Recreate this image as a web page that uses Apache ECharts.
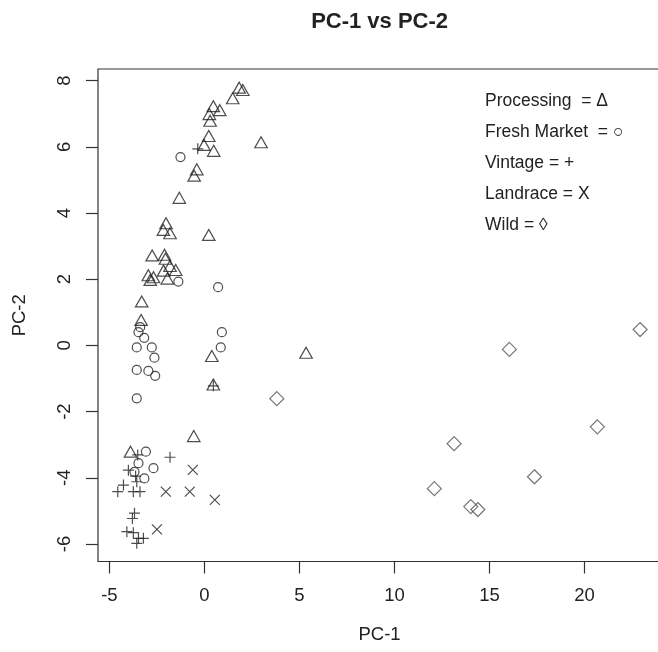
<!DOCTYPE html>
<html>
<head>
<meta charset="utf-8">
<script src="https://cdn.jsdelivr.net/npm/echarts@6/dist/echarts.min.js"></script>
<style>
html,body{margin:0;padding:0;background:#fff;}
#chart{width:658px;height:652px;}
</style>
</head>
<body>
<div id="chart"></div>
<script>
var titleText = 'PC-1 vs PC-2';
var xName = 'PC-1';
var yName = 'PC-2';
var xTicks = [-5, 0, 5, 10, 15, 20];
var yTicks = [-6, -4, -2, 0, 2, 4, 6, 8];

var processing = [[1.83,7.79],[2.02,7.72],[1.49,7.47],[0.47,7.23],[0.81,7.11],[0.26,6.99],[0.30,6.79],[0.23,6.33],[-0.02,6.06],[0.49,5.88],[2.98,6.14],[-0.40,5.32],[-0.54,5.13],[-1.32,4.46],[-2.02,3.69],[-2.16,3.49],[-1.81,3.39],[0.23,3.34],[-2.75,2.72],[-2.10,2.74],[-2.05,2.62],[-1.81,2.40],[-1.51,2.28],[-2.15,2.26],[-2.95,2.12],[-2.68,2.06],[-2.85,1.98],[-1.95,2.02],[-3.30,1.33],[-3.33,0.77],[0.39,-0.32],[5.35,-0.22],[0.47,-1.18],[-0.56,-2.74],[-3.89,-3.21]];
var freshMarket = [[-1.26,5.69],[-1.37,1.93],[0.72,1.76],[-3.38,0.55],[-3.47,0.40],[-3.17,0.23],[-3.56,-0.06],[-2.77,-0.06],[-2.63,-0.37],[-3.56,-0.74],[-2.95,-0.77],[-2.59,-0.92],[-3.56,-1.60],[0.92,0.40],[0.86,-0.06],[-3.08,-3.21],[-3.47,-3.56],[-2.68,-3.71],[-3.68,-3.82],[-3.16,-4.02]];
var vintage = [[-0.35,5.94],[0.47,-1.22],[-3.51,-3.31],[-1.81,-3.38],[-4.00,-3.77],[-3.62,-3.95],[-3.56,-4.12],[-4.26,-4.22],[-4.56,-4.42],[-3.74,-4.42],[-3.39,-4.42],[-3.68,-5.07],[-3.79,-5.23],[-4.08,-5.63],[-3.74,-5.66],[-3.47,-5.83],[-3.21,-5.83],[-3.56,-5.98]];
var landrace = [[-0.61,-3.76],[-2.03,-4.42],[-0.77,-4.42],[0.55,-4.67],[-2.50,-5.56]];
var wild = [[3.81,-1.61],[16.05,-0.12],[22.93,0.48],[20.68,-2.46],[13.14,-2.97],[17.37,-3.97],[12.10,-4.33],[14.02,-4.87],[14.39,-4.96]];

var legendLines = ['Processing  = \u0394', 'Fresh Market  = \u25CB', 'Vintage = +', 'Landrace = X', 'Wild = \u25CA'];

var FONT = '"Liberation Sans", Arial, sans-serif';
var INK = '#222';

function sc(name, data, symbol, size, color) {
  return {
    name: name, type: 'scatter', data: data, symbol: symbol, symbolSize: size,
    itemStyle: { color: 'rgba(0,0,0,0)', borderColor: color || INK, borderWidth: 1.2 },
    emphasis: { disabled: true }, silent: true, animation: false
  };
}

var chart = echarts.init(document.getElementById('chart'), null, { renderer: 'canvas' });
var legendGraphics = legendLines.map(function (t, i) {
  return {
    type: 'text', left: 485, top: 102.6 + i * 31 - 10,
    style: { text: t, fontSize: 17.5, fontFamily: FONT, fill: INK }
  };
});

chart.setOption({
  animation: false,
  backgroundColor: '#fff',
  title: {
    text: titleText, left: 379.6, top: 11, textAlign: 'center', padding: 0,
    textStyle: { fontSize: 22, fontWeight: 'bold', fontFamily: FONT, color: INK }
  },
  grid: {
    left: 98, top: 69, right: -3, bottom: 90.5, outerBoundsMode: 'none', containLabel: false,
    show: true, borderColor: '#333', borderWidth: 1.2, backgroundColor: 'rgba(0,0,0,0)'
  },
  xAxis: {
    type: 'value', min: -5.6, max: 24.03,
    name: xName, nameLocation: 'middle', nameGap: 64,
    nameTextStyle: { fontSize: 18.5, fontFamily: FONT, color: INK },
    axisLine: { show: false, onZero: false }, splitLine: { show: false },
    axisTick: { show: true, inside: false, length: 12, customValues: xTicks, lineStyle: { color: '#333', width: 1.2 } },
    axisLabel: { customValues: xTicks, margin: 25, fontSize: 18.5, fontFamily: FONT, color: INK }
  },
  yAxis: {
    type: 'value', min: -6.53, max: 8.353,
    name: yName, nameLocation: 'middle', nameGap: 69,
    nameTextStyle: { fontSize: 18.5, fontFamily: FONT, color: INK },
    axisLine: { show: false, onZero: false }, splitLine: { show: false },
    axisTick: { show: true, inside: false, length: 12, customValues: yTicks, lineStyle: { color: '#333', width: 1.2 } },
    axisLabel: { customValues: yTicks, rotate: 90, margin: 24, fontSize: 18.5, fontFamily: FONT, color: INK }
  },
  graphic: legendGraphics,
  series: [
    sc('Processing', processing, 'triangle', [12.5, 11]),
    sc('Fresh Market', freshMarket, 'circle', 9),
    sc('Vintage', vintage, 'path://M5 0 L5 10 M0 5 L10 5', 11),
    sc('Landrace', landrace, 'path://M0 0 L10 10 M10 0 L0 10', 10),
    sc('Wild', wild, 'path://M5 0 L10 5 L5 10 L0 5 Z', 14, '#555')
  ]
});
</script>
</body>
</html>
